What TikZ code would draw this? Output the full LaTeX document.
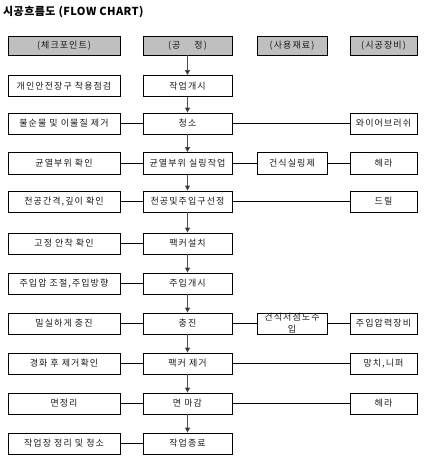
\documentclass[tikz,border=0pt]{standalone}
\usepackage{fontspec}
\setmainfont{Noto Sans CJK KR}[LetterSpace=12]
\usetikzlibrary{arrows.meta}
\tikzset{
  box/.style={draw=black, line width=0.8pt, minimum height=21pt, inner sep=0pt, font=\fontsize{9}{10}\selectfont, text=black!90},
  hdr/.style={box, fill=black!25, minimum height=19pt},
  c1/.style={minimum width=112pt},
  c2/.style={minimum width=89pt},
  c3/.style={minimum width=70pt},
  c4/.style={minimum width=67pt},
  flow/.style={draw=black!70, line width=1pt, -{Triangle[width=5pt,length=5pt,fill=black]}},
  link/.style={draw=black, line width=0.8pt}
}
\begin{document}
\begin{tikzpicture}[x=1pt,y=-1pt]
\useasboundingbox (0,0) rectangle (424,466);
\node[anchor=west, font=\fontsize{11}{12}\selectfont\bfseries, inner sep=0pt] (title) at (3,12) {\addfontfeatures{LetterSpace=4}시공흐름도 (FLOW CHART)};
% headers
\node[hdr,c1] (h1) at (64,45.5) {(체크포인트)};
\node[hdr,c2] (h2) at (187.5,45.5) {(공\hspace{14pt}정)};
\node[hdr,c3] (h3) at (292,45.5) {(사용재료)};
\node[hdr,c4] (h4) at (383.5,45.5) {(시공장비)};
% row 1
\node[box,c1] (a1) at (64,86) {개인안전장구 착용점검};
\node[box,c2] (b1) at (187.5,86) {작업개시};
% row 2
\node[box,c1] (a2) at (64,123.5) {불순물 및 이물질 제거};
\node[box,c2] (b2) at (187.5,123.5) {청소};
\node[box,c4] (d2) at (383.5,123.5) {와이어브러쉬};
% row 3
\node[box,c1,minimum height=22pt] (a3) at (64,163.5) {균열부위 확인};
\node[box,c2,minimum height=22pt] (b3) at (187.5,163.5) {균열부위 실링작업};
\node[box,c3,minimum height=22pt] (c3n) at (292,163.5) {건식실링제};
\node[box,c4,minimum height=22pt] (d3) at (383.5,163.5) {헤라};
% row 4
\node[box,c1] (a4) at (64,201.5) {천공간격,깊이 확인};
\node[box,c2] (b4) at (187.5,201.5) {천공및주입구선정};
\node[box,c4] (d4) at (383.5,201.5) {드릴};
% row 5
\node[box,c1] (a5) at (64,243.5) {고정 안착 확인};
\node[box,c2] (b5) at (187.5,243.5) {팩커설치};
% row 6
\node[box,c1] (a6) at (64,283.5) {주입압 조절,주입방향};
\node[box,c2] (b6) at (187.5,283.5) {주입개시};
% row 7
\node[box,c1] (a7) at (64,323.5) {밀실하게 충진};
\node[box,c2] (b7) at (187.5,323.5) {충진};
\node[box,c3] (c7) at (292,323.5) {};
\node[font=\fontsize{9}{11.5}\selectfont, text=black!90, align=center, inner sep=0pt] (c7t) at (292,323) {건식저점도주\\입};
\node[box,c4] (d7) at (383.5,323.5) {주입압력장비};
% row 8
\node[box,c1] (a8) at (64,363.5) {경화 후 제거확인};
\node[box,c2] (b8) at (187.5,363.5) {팩커 제거};
\node[box,c4] (d8) at (383.5,363.5) {망치,니퍼};
% row 9
\node[box,c1] (a9) at (64,403.5) {면정리};
\node[box,c2] (b9) at (187.5,403.5) {면 마감};
\node[box,c4] (d9) at (383.5,403.5) {헤라};
% row 10
\node[box,c1] (a10) at (64,443.5) {작업장 정리 및 청소};
\node[box,c2] (b10) at (187.5,443.5) {작업종료};
% flow arrows
\draw[flow] (h2) -- (b1);
\draw[flow] (b1) -- (b2);
\draw[flow] (b2) -- (b3);
\draw[flow] (b3) -- (b4);
\draw[flow] (b4) -- (b5);
\draw[flow] (b5) -- (b6);
\draw[flow] (b6) -- (b7);
\draw[flow] (b7) -- (b8);
\draw[flow] (b8) -- (b9);
\draw[flow] (b9) -- (b10);
% links
\draw[link] (a2) -- (b2); \draw[link] (b2) -- (d2);
\draw[link] (a3) -- (b3); \draw[link] (b3) -- (c3n); \draw[link] (c3n) -- (d3);
\draw[link] (a4) -- (b4); \draw[link] (b4) -- (d4);
\draw[link] (a5) -- (b5);
\draw[link] (a6) -- (b6);
\draw[link] (a7) -- (b7); \draw[link] (b7) -- (c7); \draw[link] (c7) -- (d7);
\draw[link] (a8) -- (b8); \draw[link] (b8) -- (d8);
\draw[link] (a9) -- (b9); \draw[link] (b9) -- (d9);
\draw[link] (a10) -- (b10);
\end{tikzpicture}
\end{document}
